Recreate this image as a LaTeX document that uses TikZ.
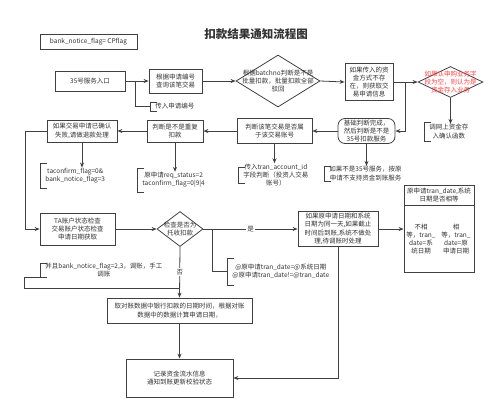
\documentclass[tikz,border=0pt]{standalone}
\usepackage{fontspec}
\setmainfont{Noto Sans CJK SC}
\usetikzlibrary{shapes.geometric,arrows.meta}
\definecolor{warn}{HTML}{FF4040}
\newcommand\brk[2]{\draw[wire] ([shift={(7pt,#2)}]#1.west) -| ([yshift=-#2]#1.west) -- ++(7pt,0pt);}
\begin{document}
\begin{tikzpicture}[x=1pt,y=-1pt,line width=.8pt,black!80,font=\fontsize{6.5}{8.3}\selectfont,
  wire/.style={draw=black!75},
  arr/.style={wire,-{Stealth[length=5pt,width=4pt]}},
  box/.style={draw=black!75,fill=white,align=center,inner sep=1pt},
  rbox/.style={box,rounded corners=7pt},
  dec/.style={draw=black!75,diamond,aspect=1.6,inner sep=0pt},
  note/.style={align=center,anchor=west,inner xsep=5pt,inner ysep=0pt},
  txt/.style={align=center,inner sep=0pt},
  lbl/.style={fill=white,inner sep=1pt}]
  \useasboundingbox (0,0) rectangle (500,413);
  \node[font=\fontsize{11.5}{12}\selectfont\bfseries] (title) at (256,34) {扣款结果通知流程图};
  \node[box,minimum width=97pt,minimum height=15pt] (flag) at (88.5,41.5) {bank\_notice\_flag= CPflag};
  \node[box,minimum width=70pt,minimum height=20pt] (entry) at (90,81) {35号服务入口};
  \node[box,minimum width=53pt,minimum height=24pt] (query) at (175.5,81) {根据申请编号\\查询该笔交易};
  \node[dec,minimum width=84pt,minimum height=52pt] (batch) at (278,81) {};
  \node[txt] at (batch) {根据batchno判断是不是\\批量扣款，批量扣款全部\\驳回};
  \node[box,minimum width=48pt,minimum height=37pt] (fund) at (369,82) {如果传入的资\\金方式不存\\在，则获取交\\易申请信息};
  \coordinate (j2) at (405,82);
  \node[dec,minimum width=65pt,minimum height=31pt] (biz) at (450.5,82) {};
  \node[txt,text=warn] at (biz) {如果认申购业务字\\段为空，则认为是\\资金存入业务};
  \node[note] (nFund) at (424,131.5) {调网上资金存\\入确认函数};
  \node[rbox,minimum width=57pt,minimum height=25pt] (basic) at (366.5,131) {基础判断完成，\\然后判断是不是\\35号扣款服务};
  \node[box,minimum width=75pt,minimum height=25pt] (acct) at (274.5,131) {判断该笔交易是否属\\于该交易账号};
  \node[box,minimum width=56pt,minimum height=22pt] (dup) at (175,131) {判断是不是重复\\扣款};
  \node[box,minimum width=70pt,minimum height=22pt] (fail) at (82,131) {如果交易申请已确认\\失败,请做退款处理};
  \node[note] (nId) at (150,106.5) {传入申请编号};
  \node[note] (nTa) at (40,175.5) {taconfirm\_flag=0\&\\bank\_notice\_flag=3};
  \node[note] (nReq) at (137,180) {原申请req\_status=2\\taconfirm\_flag=0|9|4};
  \node[note] (nAcc) at (238,175) {传入tran\_account\_id\\字段判断（投资人交易\\账号）};
  \node[note] (nNo35) at (324,173.5) {如果不是35号服务，按原\\申请不支持资金到账服务};
  \node[box,minimum width=75pt,minimum height=32pt] (ta) at (77.5,229) {TA账户状态检查\\交易账户状态检查\\申请日期获取};
  \node[dec,minimum width=46pt,minimum height=35pt] (coll) at (180,229) {};
  \node[txt] at (coll) {检查是否为\\托收扣款};
  \node[box,minimum width=80pt,minimum height=35pt] (same) at (338,229) {如果原申请日期和系统\\日期为同一天,如果截止\\时间后到账,系统不做处\\理,待调账时处理};
  \node[box,minimum width=70pt,minimum height=20pt] (tbh) at (439,195) {原申请tran\_date,系统\\日期是否相等};
  \node[box,minimum width=70pt,minimum height=67pt] (tbb) at (439,238.5) {};
  \node[txt] (neq) at (421,239) {不相\\等，tran\_\\date=系\\统日期};
  \node[txt] (eq) at (456,239) {相\\等，tran\_\\date=原\\申请日期};
  \node[note] (nDate) at (227,271.5) {@原申请tran\_date=@系统日期\\@原申请tran\_date!=@tran\_date};
  \node[note] (nMan) at (40,270) {并且bank\_notice\_flag=2,3，调账，手工\\调账};
  \node[box,minimum width=145pt,minimum height=25pt] (calc) at (179.5,310.5) {取对账数据中银行扣款的日期时间，根据对账\\数据中的数据计算申请日期，};
  \node[box,minimum width=107pt,minimum height=38pt] (rec) at (179.5,378) {记录资金流水信息\\通知到账更新校验状态};
  \foreach \n/\h in {nId/4.5pt,nFund/9.5pt,nTa/12.5pt,nReq/12pt,nAcc/8pt,nNo35/7.5pt,nDate/13.5pt,nMan/7pt}
    \brk{\n}{\h};
  \coordinate (j1) at (135,81);
  \coordinate (j3) at (212,229);
  \coordinate (j4) at (180,288);
  \draw[arr] (entry.east) -- (query.west);
  \draw[wire] (j1) |- (nId.west);
  \draw[arr] (query.east) -- (batch.west);
  \draw[arr] (batch.east) -- (fund.west);
  \draw[wire] (fund.east) -- (j2);
  \draw[arr] (j2) -- (biz.west);
  \draw[arr] (j2) |- (basic.east);
  \draw[arr] (biz.south) -- (biz.south |- nFund.north);
  \draw[arr] (basic.west) -- (acct.east);
  \draw[arr] (basic.south) -- (basic.south |- nNo35.north);
  \draw[arr] (acct.west) -- (dup.east);
  \draw[arr] (acct.south) -- (acct.south |- nAcc.north);
  \draw[arr] (dup.west) -- (fail.east);
  \draw[arr] (dup.south) -- (dup.south |- nReq.north);
  \draw[arr] (fail.south) -- (fail.south |- nTa.north);
  \draw[arr] (fail.west) -- ++(-21pt,0pt) |- (ta.west);
  \draw[arr] (ta.east) -- (coll.west);
  \draw[arr] (coll.east) -- node[lbl]{是} (same.west);
  \draw[wire] (j3) |- (nDate.west);
  \draw[arr] (coll.south) -- node[lbl]{否} (calc.north);
  \draw[wire] ([yshift=-7pt]nMan.west) -- ++(-16pt,0pt) |- (j4);
  \draw[arr] (calc.south) -- (rec.north);
  \draw[arr] (same.south) |- (rec.east);
  \draw[arr] (same.east) -- (same.east -| tbb.west);
\end{tikzpicture}
\end{document}
